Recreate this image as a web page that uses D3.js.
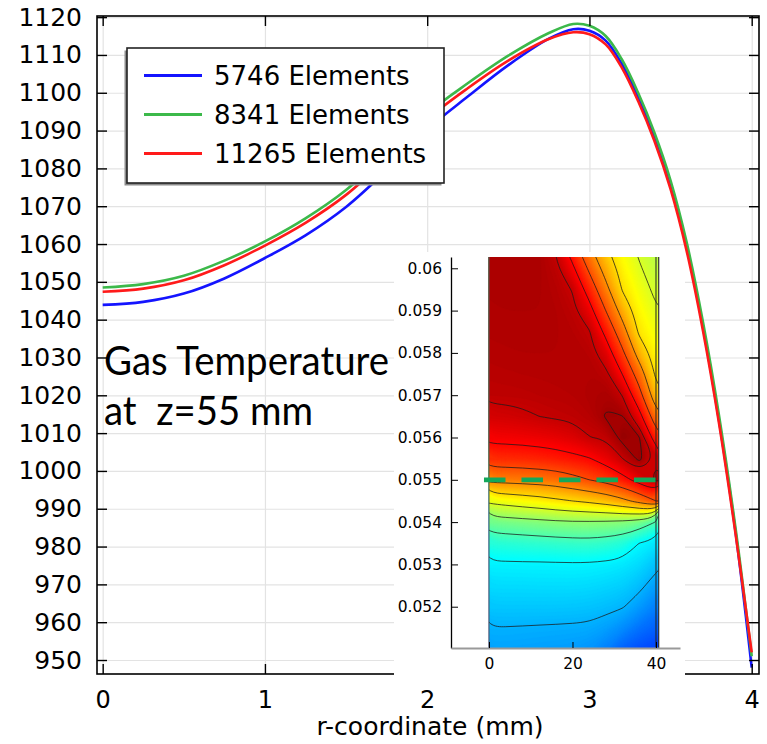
<!DOCTYPE html>
<html>
<head>
<meta charset="utf-8">
<script src="https://cdn.jsdelivr.net/npm/d3@7"></script>
<style>
  body { margin: 0; background: #fff; }
  svg { display: block; }
  text { font-family: "DejaVu Sans", sans-serif; fill: #000; }
</style>
</head>
<body>
<div id="chart"></div>
<script>
// radial profiles of gas temperature at z = 55 mm, one per mesh
var radius = [0, 0.25, 0.5, 0.75, 1.0, 1.25, 1.5, 1.75, 2.0, 2.25, 2.5, 2.75, 2.9, 3.0, 3.1, 3.2, 3.3, 3.4, 3.5, 3.6, 3.7, 3.8, 3.9, 4.0];
var temp5746  = [1043.9, 1044.7, 1046.9, 1050.9, 1056.3, 1062.3, 1069.8, 1079.5, 1090.3, 1099.0, 1107.3, 1114.3, 1116.8, 1116.4, 1113.8, 1107.6, 1098.8, 1088.3, 1075.5, 1059.0, 1038.0, 1013.0, 984.0, 948.0];
var temp8341  = [1048.5, 1049.4, 1051.6, 1055.6, 1060.7, 1066.8, 1074.3, 1084.0, 1094.5, 1102.5, 1109.8, 1115.8, 1118.2, 1117.7, 1115.0, 1108.8, 1100.0, 1089.5, 1076.8, 1060.3, 1039.3, 1014.3, 985.0, 951.0];
var temp11265 = [1047.4, 1048.2, 1050.4, 1054.4, 1059.6, 1065.6, 1073.0, 1082.6, 1093.0, 1101.2, 1108.5, 1114.2, 1116.0, 1115.5, 1112.8, 1106.6, 1097.8, 1087.3, 1074.5, 1058.0, 1037.0, 1012.2, 983.5, 952.0];
var seriesNames = ["5746 Elements", "8341 Elements", "11265 Elements"];
var seriesColors = ["#1414ff", "#3cb94a", "#ff1a1a"];

var xTicks = [0, 1, 2, 3, 4];
var yTicks = [950, 960, 970, 980, 990, 1000, 1010, 1020, 1030, 1040, 1050, 1060, 1070, 1080, 1090, 1100, 1110, 1120];

// inset: normalised temperature field (0..1 on the colour map), rows from z = 0.051 upward
var fieldR = [0, 4, 8, 12, 16, 20, 24, 28, 32, 36, 40];
var fieldZ = [0.0510, 0.0515, 0.0520, 0.0525, 0.0530, 0.0535, 0.0540, 0.0545, 0.0550, 0.0555,
              0.0560, 0.0565, 0.0570, 0.0575, 0.0580, 0.0585, 0.0590, 0.0595, 0.0600, 0.0605];
var fieldRows = [
  [0.285, 0.285, 0.283, 0.281, 0.279, 0.277, 0.270, 0.250, 0.220, 0.200, 0.190],
  [0.299, 0.299, 0.298, 0.297, 0.296, 0.295, 0.293, 0.282, 0.263, 0.238, 0.220],
  [0.320, 0.320, 0.320, 0.320, 0.320, 0.319, 0.317, 0.311, 0.303, 0.277, 0.250],
  [0.341, 0.341, 0.341, 0.342, 0.342, 0.342, 0.340, 0.335, 0.328, 0.311, 0.280],
  [0.362, 0.362, 0.363, 0.363, 0.364, 0.365, 0.364, 0.360, 0.354, 0.340, 0.313],
  [0.411, 0.415, 0.418, 0.421, 0.425, 0.428, 0.430, 0.423, 0.409, 0.369, 0.349],
  [0.487, 0.493, 0.499, 0.505, 0.511, 0.515, 0.515, 0.513, 0.509, 0.493, 0.447],
  [0.604, 0.615, 0.625, 0.634, 0.648, 0.660, 0.672, 0.688, 0.714, 0.751, 0.800],
  [0.748, 0.750, 0.754, 0.758, 0.765, 0.781, 0.800, 0.819, 0.850, 0.894, 0.940],
  [0.832, 0.834, 0.836, 0.841, 0.848, 0.857, 0.867, 0.894, 0.930, 0.975, 0.925],
  [0.885, 0.886, 0.889, 0.893, 0.898, 0.908, 0.929, 0.935, 0.978, 0.967, 0.835],
  [0.917, 0.919, 0.924, 0.930, 0.935, 0.938, 0.945, 0.968, 0.966, 0.891, 0.758],
  [0.938, 0.939, 0.940, 0.942, 0.944, 0.946, 0.952, 0.958, 0.928, 0.823, 0.688],
  [0.944, 0.945, 0.946, 0.947, 0.948, 0.949, 0.950, 0.940, 0.868, 0.768, 0.649],
  [0.948, 0.949, 0.950, 0.950, 0.950, 0.949, 0.945, 0.904, 0.811, 0.700, 0.631],
  [0.951, 0.952, 0.952, 0.952, 0.951, 0.946, 0.934, 0.854, 0.758, 0.649, 0.613],
  [0.953, 0.954, 0.954, 0.954, 0.950, 0.940, 0.893, 0.799, 0.703, 0.631, 0.595],
  [0.955, 0.955, 0.955, 0.955, 0.947, 0.928, 0.843, 0.748, 0.655, 0.613, 0.579],
  [0.956, 0.956, 0.956, 0.956, 0.940, 0.882, 0.789, 0.704, 0.635, 0.595, 0.565],
  [0.957, 0.957, 0.957, 0.956, 0.925, 0.831, 0.739, 0.665, 0.616, 0.580, 0.550]
];
var isoLevels = [0.30, 0.37, 0.45, 0.52, 0.59, 0.66, 0.73, 0.80, 0.87, 0.93, 0.965];
var insetXTicks = [0, 20, 40];
var insetYTicks = [0.052, 0.053, 0.054, 0.055, 0.056, 0.057, 0.058, 0.059, 0.06];
var sliceZ = 0.055;   // z = 55 mm
var wallR = 40;
var fieldEdgeR = 40.65;

var width = 767, height = 744;
var plot = {left: 97, top: 16, right: 759, bottom: 674};

var svg = d3.select("#chart").append("svg")
    .attr("width", width)
    .attr("height", height);

var x = d3.scaleLinear().domain([-0.035, 4.045]).range([plot.left, plot.right]);
var y = d3.scaleLinear().domain([946.3, 1120.3]).range([plot.bottom, plot.top]);

//grid lines
svg.append("g")
    .attr("transform", "translate(" + plot.left + ",0)")
    .call(d3.axisLeft(y).tickValues(yTicks).tickSize(-(plot.right - plot.left)).tickFormat(""))
    .call(function(g) { g.select(".domain").remove(); })
    .selectAll("line").attr("stroke", "#e3e3e3").attr("stroke-width", 1.2);

svg.append("g")
    .attr("transform", "translate(0," + plot.bottom + ")")
    .call(d3.axisBottom(x).tickValues(xTicks).tickSize(-(plot.bottom - plot.top)).tickFormat(""))
    .call(function(g) { g.select(".domain").remove(); })
    .selectAll("line").attr("stroke", "#e3e3e3").attr("stroke-width", 1.2);

// curves
svg.append("clipPath").attr("id", "plot-clip")
    .append("rect")
    .attr("x", plot.left).attr("y", plot.top)
    .attr("width", plot.right - plot.left).attr("height", plot.bottom - plot.top);

var line = d3.line()
    .x(function(d, i) { return x(radius[i]); })
    .y(function(d) { return y(d); })
    .curve(d3.curveCatmullRom.alpha(0.5));

var series = [temp5746, temp8341, temp11265];
svg.append("g")
    .attr("clip-path", "url(#plot-clip)")
    .selectAll("path")
    .data(series)
    .enter().append("path")
    .attr("d", line)
    .attr("fill", "none")
    .attr("stroke", function(d, i) { return seriesColors[i]; })
    .attr("stroke-width", 2.6);

// frame and inward ticks on all four sides
function styleAxis(g, size) {
    g.select(".domain").remove();
    g.selectAll("line").attr("stroke", "#000").attr("stroke-width", 1.4);
    g.selectAll("text").attr("font-size", size).attr("fill", "#000")
        .style("font-family", "'DejaVu Sans', sans-serif");
}

var plain = d3.format("d");

svg.append("g")
    .attr("transform", "translate(" + plot.left + ",0)")
    .call(d3.axisLeft(y).tickValues(yTicks).tickSize(-10).tickSizeOuter(0).tickPadding(15).tickFormat(plain))
    .call(styleAxis, 25);

svg.append("g")
    .attr("transform", "translate(" + plot.right + ",0)")
    .call(d3.axisRight(y).tickValues(yTicks).tickSize(-10).tickSizeOuter(0).tickFormat(""))
    .call(styleAxis, 25);

svg.append("g")
    .attr("transform", "translate(0," + plot.top + ")")
    .call(d3.axisTop(x).tickValues(xTicks).tickSize(-10).tickSizeOuter(0).tickFormat(""))
    .call(styleAxis, 25);

svg.append("g")
    .attr("transform", "translate(0," + plot.bottom + ")")
    .call(d3.axisBottom(x).tickValues(xTicks).tickSize(-10).tickSizeOuter(0).tickPadding(17).tickFormat(plain))
    .call(styleAxis, 24);

svg.append("rect")
    .attr("x", plot.left).attr("y", plot.top)
    .attr("width", plot.right - plot.left).attr("height", plot.bottom - plot.top)
    .attr("fill", "none")
    .attr("stroke", "#000")
    .attr("stroke-width", 1.6);

svg.append("text")
    .attr("x", 430).attr("y", 735)
    .attr("text-anchor", "middle")
    .attr("font-size", 25)
    .text("r-coordinate (mm)");

// legend
var legend = svg.append("g").attr("transform", "translate(127,48)");
legend.append("rect")
    .attr("x", -2.5).attr("y", 2.5)
    .attr("width", 317).attr("height", 135)
    .attr("fill", "#8c8c8c");
legend.append("rect")
    .attr("width", 317).attr("height", 135)
    .attr("fill", "#fff")
    .attr("stroke", "#222")
    .attr("stroke-width", 1.6);

var entry = legend.selectAll("g.entry")
    .data(seriesNames)
    .enter().append("g")
    .attr("class", "entry")
    .attr("transform", function(d, i) { return "translate(0," + (27.5 + i * 39) + ")"; });
entry.append("line")
    .attr("x1", 17).attr("x2", 75)
    .attr("stroke", function(d, i) { return seriesColors[i]; })
    .attr("stroke-width", 3.2);
entry.append("text")
    .attr("x", 87).attr("y", 9.5)
    .attr("font-size", 26)
    .text(function(d) { return d; });

// annotation
var note = svg.append("g");
note.append("text")
    .attr("x", 104).attr("y", 375)
    .attr("font-size", 40)
    .attr("textLength", 285).attr("lengthAdjust", "spacingAndGlyphs")
    .style("font-family", "Lato, sans-serif")
    .text("Gas Temperature");
note.append("text")
    .attr("x", 104).attr("y", 425)
    .attr("font-size", 40)
    .attr("textLength", 209).attr("lengthAdjust", "spacingAndGlyphs")
    .style("font-family", "Lato, sans-serif")
    .style("white-space", "pre")
    .text("at  z=55 mm");

// inset with the temperature field
var insetBox = {left: 394, top: 252, right: 685, bottom: 683};
var ia = {left: 451, top: 257, right: 680, bottom: 648};
svg.append("rect")
    .attr("x", insetBox.left).attr("y", insetBox.top)
    .attr("width", insetBox.right - insetBox.left).attr("height", insetBox.bottom - insetBox.top)
    .attr("fill", "#fff");

var xi = d3.scaleLinear().domain([-9.1, 45.75]).range([ia.left, ia.right]);
var yi = d3.scaleLinear().domain([0.051024, 0.060267]).range([ia.bottom, ia.top]);

var jet = d3.scaleLinear()
    .domain([0, 0.125, 0.375, 0.625, 0.875, 1])
    .range(["#00007f", "#0000ff", "#00ffff", "#ffff00", "#ff0000", "#7f0000"])
    .clamp(true);

var nx = fieldR.length, ny = fieldZ.length;
var values = [];
fieldRows.forEach(function(row) { values = values.concat(row); });
var dr = fieldR[1] - fieldR[0], dz = fieldZ[1] - fieldZ[0];

// grid index space -> inset pixels (d3.contours puts sample i at i + 0.5),
// rings drawn as closed B-splines so the coarse grid does not show
var ringLine = d3.line()
    .x(function(p) { return xi(fieldR[0] + (p[0] - 0.5) * dr); })
    .y(function(p) { return yi(fieldZ[0] + (p[1] - 0.5) * dz); })
    .curve(d3.curveBasisClosed);

function contourPath(c) {
    return c.coordinates.map(function(polygon) {
        return polygon.map(function(ring) { return ringLine(ring.slice(0, -1)); }).join("");
    }).join("");
}

svg.append("clipPath").attr("id", "field-clip")
    .append("rect")
    .attr("x", xi(0)).attr("y", ia.top)
    .attr("width", xi(fieldEdgeR) - xi(0)).attr("height", ia.bottom - ia.top);

var field = svg.append("g").attr("clip-path", "url(#field-clip)");

var bands = d3.contours().size([nx, ny]).thresholds(d3.range(0.15, 0.99, 0.004))(values);
field.selectAll("path.band")
    .data(bands)
    .enter().append("path")
    .attr("class", "band")
    .attr("d", contourPath)
    .attr("fill", function(d) { return jet(d.value + 0.002); })
    .attr("stroke", function(d) { return jet(d.value + 0.002); })
    .attr("stroke-width", 0.4);

var isolines = d3.contours().size([nx, ny]).thresholds(isoLevels)(values);
field.selectAll("path.iso")
    .data(isolines)
    .enter().append("path")
    .attr("class", "iso")
    .attr("d", contourPath)
    .attr("fill", "none")
    .attr("stroke", "#1c1c1c")
    .attr("stroke-opacity", 0.85)
    .attr("stroke-width", 0.9);

// field edges: axis, wall and outer border
svg.append("line")
    .attr("x1", xi(0)).attr("x2", xi(0))
    .attr("y1", ia.top).attr("y2", ia.bottom)
    .attr("stroke", "#555").attr("stroke-width", 1);
svg.append("line")
    .attr("x1", xi(wallR)).attr("x2", xi(wallR))
    .attr("y1", ia.top).attr("y2", ia.bottom)
    .attr("stroke", "#222").attr("stroke-width", 1);
svg.append("line")
    .attr("x1", xi(fieldEdgeR)).attr("x2", xi(fieldEdgeR))
    .attr("y1", ia.top).attr("y2", ia.bottom)
    .attr("stroke", "#333").attr("stroke-width", 1.2);

// inset axes
var iy = svg.append("g")
    .attr("transform", "translate(" + ia.left + ",0)")
    .call(d3.axisLeft(yi).tickValues(insetYTicks).tickSize(-7).tickSizeOuter(0).tickPadding(9)
        .tickFormat(d3.format(".3~f")));
iy.select(".domain").attr("stroke", "#000").attr("stroke-width", 1.3);
iy.selectAll("line").attr("stroke", "#000").attr("stroke-width", 1);
iy.selectAll("text").attr("font-size", 15.5).attr("fill", "#000");

var ix = svg.append("g")
    .attr("transform", "translate(0," + ia.bottom + ")")
    .call(d3.axisBottom(xi).tickValues(insetXTicks).tickSize(-6).tickSizeOuter(0).tickPadding(10));
ix.select(".domain").attr("stroke", "#999").attr("stroke-width", 2.2);
ix.selectAll("line").attr("stroke", "#000").attr("stroke-width", 1);
ix.selectAll("text").attr("font-size", 15.5).attr("fill", "#000");

// slice where the radial profiles are taken
svg.append("line")
    .attr("x1", xi(-1.2)).attr("x2", xi(wallR))
    .attr("y1", yi(sliceZ)).attr("y2", yi(sliceZ))
    .attr("stroke", "#14a85a")
    .attr("stroke-width", 4.7)
    .attr("stroke-dasharray", "21.5,16");
</script>
</body>
</html>
